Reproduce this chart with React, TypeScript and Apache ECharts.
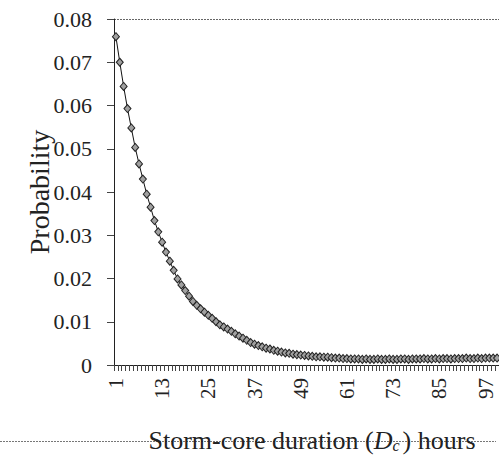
import React, { useEffect, useRef } from "react";
import * as echarts from "echarts";

const categories: string[] = [];
for (let i = 1; i <= 100; i++) categories.push(String(i));

const probability: number[] = [
  0.0759, 0.0700, 0.0644, 0.0593, 0.0548, 0.0503, 0.0465, 0.0430, 0.0395, 0.0365,
  0.0334, 0.0308, 0.0284, 0.0261, 0.0240, 0.0219, 0.0199, 0.0185, 0.0172, 0.0159,
  0.0147, 0.0138, 0.0130, 0.0122, 0.0115, 0.0108, 0.0100, 0.0093, 0.0088, 0.0083,
  0.0078, 0.0072, 0.0067, 0.0062, 0.0057, 0.0052, 0.0048, 0.0045, 0.0042, 0.0039,
  0.0037, 0.0034, 0.0032, 0.0030, 0.0028, 0.0027, 0.0025, 0.0024, 0.0023, 0.0022,
  0.0021, 0.0020, 0.0019, 0.0019, 0.0018, 0.0018, 0.0017, 0.0016, 0.0016, 0.0015,
  0.0015, 0.0014, 0.0014, 0.0014, 0.0013, 0.0014, 0.0013, 0.0013, 0.0014, 0.0013,
  0.0013, 0.0014, 0.0013, 0.0013, 0.0014, 0.0014, 0.0013, 0.0014, 0.0014, 0.0014,
  0.0015, 0.0014, 0.0014, 0.0015, 0.0014, 0.0015, 0.0015, 0.0014, 0.0015, 0.0015,
  0.0015, 0.0016, 0.0015, 0.0015, 0.0016, 0.0015, 0.0016, 0.0016, 0.0016, 0.0016,
];

const yTicks = [0, 0.01, 0.02, 0.03, 0.04, 0.05, 0.06, 0.07, 0.08];
const yTitle = "Probability";
const xTitleMain = "Storm-core duration (";
const xTitleVar = "D";
const xTitleSub = "c";
const xTitleEnd = ") hours";

const FONT = "Liberation Serif";

export default function App() {
  const ref = useRef<HTMLDivElement>(null);
  useEffect(() => {
    if (!ref.current) return;
    const chart = echarts.init(ref.current, undefined, { renderer: "svg" });
    chart.setOption({
      animation: false,
      backgroundColor: "#ffffff",
      textStyle: { fontFamily: FONT },
      grid: { left: 114, right: 0, top: 19, bottom: 94, containLabel: false },
      xAxis: {
        type: "category",
        data: categories,
        boundaryGap: true,
        axisLine: { show: true, lineStyle: { color: "#222", width: 1 } },
        axisTick: { show: true, interval: 0, length: 6, lineStyle: { color: "#444", width: 1 } },
        axisLabel: {
          interval: 11,
          rotate: 90,
          margin: 13,
          fontFamily: FONT,
          fontSize: 21,
          color: "#222",
        },
        splitLine: { show: false },
      },
      yAxis: {
        type: "value",
        min: 0,
        max: 0.08,
        interval: 0.01,
        axisLine: { show: true, lineStyle: { color: "#222", width: 1 } },
        axisTick: { show: true, length: 7, lineStyle: { color: "#444", width: 1 } },
        axisLabel: {
          margin: 22,
          fontFamily: FONT,
          fontSize: 22,
          color: "#222",
          formatter: (v: number) => {
            const t = yTicks.find((k) => Math.abs(k - v) < 1e-9);
            const val = t === undefined ? v : t;
            return val === 0 ? "0" : val.toFixed(2);
          },
        },
        splitLine: { show: false },
      },
      graphic: [
        {
          type: "line",
          shape: { x1: 114, y1: 19.5, x2: 499, y2: 19.5 },
          style: { stroke: "#666", lineWidth: 1, lineDash: [2, 1] },
        },
        {
          type: "line",
          shape: { x1: 0, y1: 441.5, x2: 496, y2: 441.5 },
          style: { stroke: "#777", lineWidth: 1, lineDash: [2, 1] },
        },
        {
          type: "text",
          x: 39,
          y: 192,
          rotation: Math.PI / 2,
          style: {
            text: yTitle,
            fontFamily: FONT,
            fontSize: 28,
            fill: "#222",
            textAlign: "center",
            textVerticalAlign: "middle",
          },
        },
        {
          type: "text",
          x: 312,
          y: 440,
          style: {
            text: `${xTitleMain}{v|${xTitleVar}}{s|${xTitleSub}}${xTitleEnd}`,
            fontFamily: FONT,
            fontSize: 26,
            fill: "#222",
            textAlign: "center",
            textVerticalAlign: "middle",
            rich: {
              v: { fontFamily: FONT, fontSize: 26, fontStyle: "italic", fill: "#222" },
              s: { fontFamily: FONT, fontSize: 16, fontStyle: "italic", fill: "#222", padding: [11, 3, 0, 0] },
            },
          },
        },
      ],
      series: [
        {
          type: "line",
          data: probability,
          symbol: "diamond",
          symbolSize: [7, 8],
          showAllSymbol: true,
          lineStyle: { color: "#111", width: 1 },
          itemStyle: { color: "#a0a0a0", borderColor: "#222", borderWidth: 1 },
        },
      ],
    });
    return () => chart.dispose();
  }, []);
  return (
    <div
      ref={ref}
      style={{ position: "fixed", left: 0, top: 0, width: 499, height: 459, background: "#fff" }}
    />
  );
}
